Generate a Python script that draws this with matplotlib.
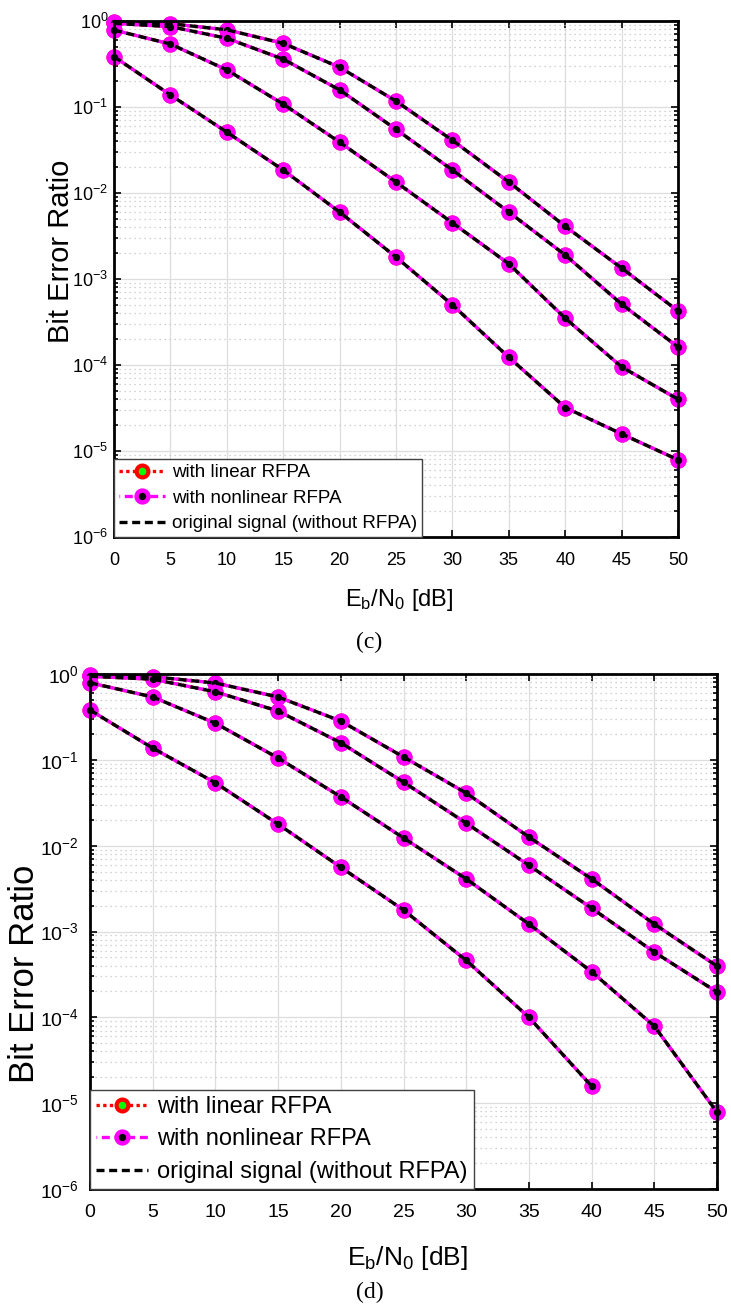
import matplotlib
matplotlib.use('Agg')
import matplotlib.pyplot as plt
from matplotlib.ticker import LogLocator, NullFormatter

plt.rcParams['font.family'] = 'Liberation Sans'
plt.rcParams['mathtext.fontset'] = 'custom'
plt.rcParams['mathtext.rm'] = 'Liberation Sans'
plt.rcParams['mathtext.it'] = 'Liberation Sans:italic'
plt.rcParams['mathtext.bf'] = 'Liberation Sans:bold'

snr = [0, 5, 10, 15, 20, 25, 30, 35, 40, 45, 50]
labels = ['with linear RFPA', 'with nonlinear RFPA', 'original signal (without RFPA)']

# panel (c)
c_a = [0.98, 0.93, 0.79, 0.55, 0.29, 0.117, 0.041, 0.0134, 0.0041, 0.00134, 4.25e-4]
c_b = [0.94, 0.86, 0.63, 0.36, 0.158, 0.055, 0.0185, 0.006, 0.0019, 5.1e-4, 1.62e-4]
c_c = [0.785, 0.54, 0.27, 0.108, 0.039, 0.0134, 0.0045, 0.0015, 3.5e-4, 9.5e-5, 4.0e-5]
c_d = [0.385, 0.138, 0.051, 0.0185, 0.006, 0.0018, 5.0e-4, 1.23e-4, 3.2e-5, 1.58e-5, 7.9e-6]

# panel (d)
d_a = [0.98, 0.93, 0.785, 0.54, 0.283, 0.108, 0.041, 0.0126, 0.0041, 0.00122, 3.95e-4]
d_b = [0.94, 0.87, 0.62, 0.37, 0.158, 0.055, 0.0183, 0.0059, 0.00187, 5.75e-4, 1.97e-4]
d_c = [0.79, 0.54, 0.267, 0.105, 0.037, 0.0123, 0.0041, 0.00122, 3.4e-4, 7.9e-5, 7.85e-6]
d_d = [0.38, 0.137, 0.054, 0.0178, 0.0056, 0.00178, 4.6e-4, 1.0e-4, 1.58e-5]

W, H = 731, 1304
fig = plt.figure(figsize=(W / 100, H / 100), dpi=100)


def panel(rect, curves, tick_fs, lab_fs, ylab_fs, leg_fs, hlen, xpad, ypad, xlab_xy, ylab_xy):
    ax = fig.add_axes(rect)
    for i, y in enumerate(curves):
        ax.plot(snr[:len(y)], y, ls=(0, (1, 1)), color='r', lw=2.4, marker='o', ms=8.5,
                mfc='#00ff00', mec='r', mew=3, clip_on=False, label=labels[0] if i == 0 else None)
    for i, y in enumerate(curves):
        ax.plot(snr[:len(y)], y, ls=(2.2, (2.4, 1.4)), color='#ff00ff', lw=2.4, marker='o', ms=8.5,
                mfc='k', mec='#ff00ff', mew=3.2, clip_on=False, label=labels[1] if i == 0 else None)
    for i, y in enumerate(curves):
        ax.plot(snr[:len(y)], y, ls=(0, (2.4, 1.4)), color='k', lw=2.4, clip_on=False,
                label=labels[2] if i == 0 else None)
    ax.set_yscale('log')
    ax.set_ylim(1e-6, 1)
    ax.set_xlim(0, 50)
    ax.set_xticks(snr)
    ax.yaxis.set_major_locator(LogLocator(base=10, numticks=10))
    ax.yaxis.set_minor_locator(LogLocator(base=10, subs=range(2, 10), numticks=20))
    ax.yaxis.set_minor_formatter(NullFormatter())
    ax.grid(True, which='major', color='#dddddd', lw=0.9)
    ax.grid(True, which='minor', axis='y', color='#c4c4c4', lw=0.9, ls=(0, (1, 3)))
    ax.set_axisbelow(True)
    ax.tick_params(which='both', direction='in', top=True, right=True, width=1.2)
    ax.tick_params(which='major', length=5)
    ax.tick_params(which='minor', length=3)
    ax.tick_params(axis='x', labelsize=tick_fs, pad=xpad)
    ax.tick_params(axis='y', labelsize=tick_fs, pad=ypad)
    for s in ax.spines.values():
        s.set_linewidth(2)
    ax.set_xlabel('$\\mathregular{E_b/N_0}$ [dB]', fontsize=lab_fs, va='center')
    ax.xaxis.set_label_coords(*xlab_xy)
    ax.set_ylabel('Bit Error Ratio', fontsize=ylab_fs, va='center')
    ax.yaxis.set_label_coords(*ylab_xy)
    leg = ax.legend(loc='lower left', borderaxespad=0, fancybox=False, framealpha=1,
                    edgecolor='#404040', fontsize=leg_fs, handlelength=hlen,
                    handletextpad=0.4, borderpad=0.25, labelspacing=0.45)
    leg.get_frame().set_linewidth(1.0)
    return ax


panel([114 / W, 1 - 537 / H, 564 / W, 516 / H], [c_a, c_b, c_c, c_d],
      13, 17, 21, 13.5, 2.45, 11, 4, (0.505, -0.122), (-0.094, 0.553))
panel([90 / W, 1 - 1189 / H, 627 / W, 515 / H], [d_a, d_b, d_c, d_d],
      14, 19, 25, 17, 2.2, 11, 8, (0.507, -0.134), (-0.104, 0.4175))

fig.text(369 / W, 1 - 642 / H, '(c)', family='Liberation Serif', fontsize=17, ha='center', va='center')
fig.text(370 / W, 1 - 1292 / H, '(d)', family='Liberation Serif', fontsize=17, ha='center', va='center')

fig.savefig('out.png', dpi=100, facecolor='white')
